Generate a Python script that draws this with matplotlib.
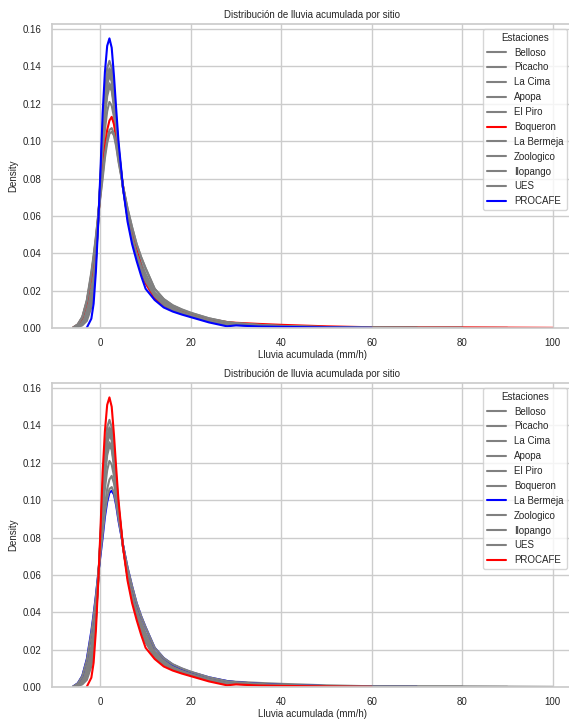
import numpy as np
import matplotlib
matplotlib.use("Agg")
import matplotlib.pyplot as plt
from matplotlib.ticker import FormatStrFormatter
import seaborn as sns

x = [-7, -6, -5, -4, -3, -2, -1.5, -1, -0.5, 0, 0.5, 1, 1.5, 2, 2.5, 3, 3.5, 4, 5, 6,
     7, 8, 9, 10, 12, 14, 16, 18, 20, 24, 28, 30, 35, 40, 50, 60, 70, 80, 90, 100]
nan = np.nan

belloso = [nan, 0.0001, 0.0007, 0.0022, 0.0055, 0.014, 0.022, 0.037, 0.057, 0.078, 0.102, 0.120, 0.132, 0.137,
           0.134, 0.123, 0.110, 0.096, 0.075, 0.060, 0.048, 0.039, 0.031, 0.025, 0.017, 0.0126, 0.0102, 0.0085,
           0.0068, 0.0039, 0.0018, 0.0018, 0.0011, 0.0008, 0.0004, 0.0002, 0.0001, nan, nan, nan]
picacho = [nan, 0.00015, 0.001, 0.0031, 0.0079, 0.018, 0.027, 0.040, 0.058, 0.076, 0.097, 0.113, 0.124, 0.129,
           0.127, 0.118, 0.107, 0.094, 0.075, 0.061, 0.050, 0.041, 0.033, 0.027, 0.018, 0.0135, 0.0108, 0.0088,
           0.0072, 0.0042, 0.0021, 0.0020, 0.0013, 0.0009, 0.0004, 0.0002, 0.0001, 0.0001, nan, nan]
la_cima = [nan, 0.0001, 0.0005, 0.0014, 0.0038, 0.011, 0.019, 0.035, 0.056, 0.080, 0.107, 0.126, 0.139, 0.143,
           0.139, 0.127, 0.112, 0.097, 0.075, 0.059, 0.047, 0.038, 0.030, 0.024, 0.016, 0.012, 0.0096, 0.0078,
           0.0063, 0.0035, 0.0015, 0.0017, 0.0010, 0.0007, 0.0004, 0.0002, 0.0001, nan, nan, nan]
apopa = [nan, 0.0002, 0.0014, 0.0041, 0.0103, 0.022, 0.031, 0.043, 0.058, 0.074, 0.091, 0.106, 0.116, 0.121,
         0.119, 0.113, 0.103, 0.092, 0.076, 0.062, 0.051, 0.042, 0.035, 0.029, 0.019, 0.0143, 0.0113, 0.0093,
         0.0075, 0.0045, 0.0025, 0.0022, 0.0014, 0.0009, 0.0004, 0.0002, 0.0001, nan, nan, nan]
el_piro = [nan, 0.0001, 0.0008, 0.0024, 0.006, 0.015, 0.023, 0.038, 0.057, 0.078, 0.101, 0.119, 0.130, 0.135,
           0.132, 0.122, 0.109, 0.096, 0.075, 0.060, 0.049, 0.040, 0.032, 0.025, 0.018, 0.013, 0.0103, 0.0083,
           0.0067, 0.0039, 0.0018, 0.0019, 0.0012, 0.0008, 0.0004, 0.0002, 0.0001, 0.0001, 0.0001, nan]
boqueron = [nan, 0.0003, 0.0018, 0.0055, 0.014, 0.028, 0.037, 0.047, 0.059, 0.072, 0.085, 0.097, 0.106, 0.111,
            0.113, 0.109, 0.101, 0.092, 0.076, 0.062, 0.051, 0.042, 0.033, 0.024, 0.016, 0.0125, 0.0100, 0.0085,
            0.0070, 0.0048, 0.0032, 0.0028, 0.0022, 0.0017, 0.0009, 0.0004, 0.0003, 0.0003, 0.0002, 0.0001]
la_bermeja = [nan, 0.0003, 0.002, 0.006, 0.015, 0.030, 0.039, 0.049, 0.060, 0.070, 0.080, 0.091, 0.099, 0.104,
              0.105, 0.103, 0.097, 0.089, 0.076, 0.064, 0.054, 0.045, 0.038, 0.032, 0.021, 0.0155, 0.012, 0.0098,
              0.008, 0.0052, 0.0032, 0.0026, 0.0017, 0.0011, 0.0005, 0.0002, 0.0001, nan, nan, nan]
zoologico = [nan, 0.0001, 0.0006, 0.0019, 0.005, 0.013, 0.021, 0.036, 0.057, 0.079, 0.104, 0.122, 0.134, 0.139,
             0.136, 0.125, 0.110, 0.097, 0.075, 0.059, 0.048, 0.039, 0.031, 0.025, 0.017, 0.0125, 0.0098, 0.0080,
             0.0065, 0.0037, 0.0017, 0.0018, 0.0011, 0.0008, 0.0004, 0.0002, 0.0001, 0.0001, nan, nan]
ilopango = [nan, 0.0003, 0.0019, 0.0058, 0.0144, 0.029, 0.038, 0.048, 0.060, 0.071, 0.082, 0.093, 0.101, 0.106,
            0.107, 0.104, 0.098, 0.090, 0.076, 0.064, 0.054, 0.045, 0.038, 0.032, 0.021, 0.0155, 0.0122, 0.0100,
            0.0082, 0.0052, 0.0031, 0.0026, 0.0017, 0.0011, 0.0005, 0.0002, 0.0001, 0.0001, nan, nan]
ues = [nan, 0.00015, 0.001, 0.0029, 0.0073, 0.017, 0.025, 0.039, 0.057, 0.077, 0.098, 0.115, 0.126, 0.131,
       0.128, 0.120, 0.107, 0.095, 0.075, 0.060, 0.049, 0.040, 0.033, 0.026, 0.018, 0.0133, 0.0104, 0.0085,
       0.0069, 0.0041, 0.0020, 0.0020, 0.0012, 0.0008, 0.0004, 0.0002, 0.0001, nan, nan, nan]
procafe = [nan, nan, nan, nan, 0.0002, 0.005, 0.013, 0.030, 0.055, 0.083, 0.115, 0.137, 0.151, 0.155,
           0.150, 0.135, 0.117, 0.100, 0.075, 0.057, 0.045, 0.036, 0.028, 0.021, 0.015, 0.011, 0.0088, 0.0072,
           0.0058, 0.0030, 0.0009, 0.0014, 0.0008, 0.0006, 0.0003, 0.0001, nan, nan, nan, nan]

estaciones = ['Belloso', 'Picacho', 'La Cima', 'Apopa', 'El Piro', 'Boqueron', 'La Bermeja',
              'Zoologico', 'Ilopango', 'UES', 'PROCAFE']
densidades = [belloso, picacho, la_cima, apopa, el_piro, boqueron, la_bermeja,
              zoologico, ilopango, ues, procafe]

# highlighted stations in each panel
resaltes = [{'Boqueron': 'red', 'PROCAFE': 'blue'},
            {'La Bermeja': 'blue', 'PROCAFE': 'red'}]

sns.set_theme(style="whitegrid")
plt.rcParams['font.family'] = ['Liberation Sans', 'DejaVu Sans']

fig = plt.figure(figsize=(5.69, 7.19), dpi=100)
ax1 = fig.add_axes([0.0914, 0.5438, 0.914, 0.4228])
ax2 = fig.add_axes([0.0914, 0.0445, 0.914, 0.4228])

for ax, colores in zip([ax1, ax2], resaltes):
    for nombre, dens in zip(estaciones, densidades):
        ax.plot(x, dens, color=colores.get(nombre, 'grey'), lw=1.5, label=nombre)
    ax.set_xlim(-10.7, 104.3)
    ax.set_ylim(0, 0.1627)
    ax.set_xticks([0, 20, 40, 60, 80, 100])
    ax.set_yticks(np.arange(0, 0.17, 0.02))
    ax.yaxis.set_major_formatter(FormatStrFormatter('%.2f'))
    ax.tick_params(labelsize=7, pad=1.5)
    ax.set_title('Distribución de lluvia acumulada por sitio', fontsize=7, pad=4)
    ax.set_xlabel('Lluvia acumulada (mm/h)', fontsize=7, labelpad=1)
    ax.set_ylabel('Density', fontsize=7, labelpad=3)
    ax.legend(title='Estaciones', fontsize=7, title_fontsize=7, loc='upper right')

fig.savefig('out.png', dpi=100)
